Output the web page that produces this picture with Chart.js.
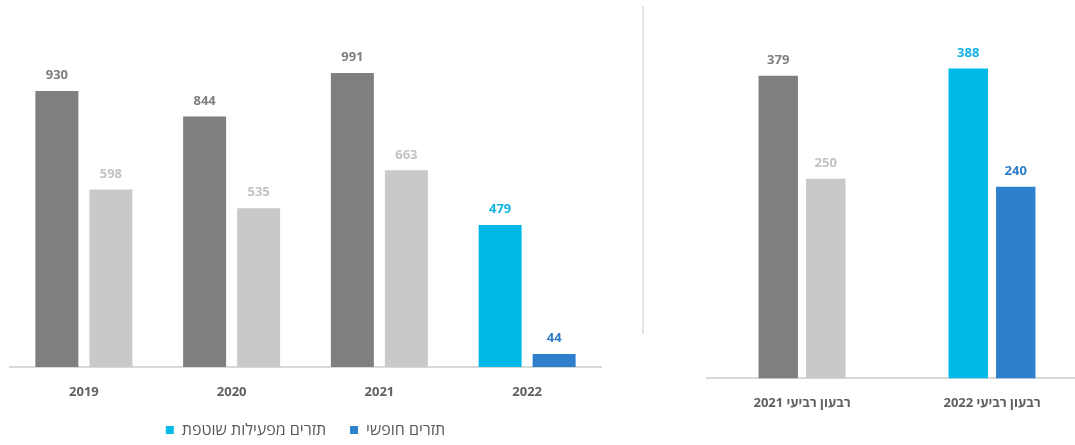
<!DOCTYPE html>
<html>
<head>
<meta charset="utf-8">
<script src="https://cdn.jsdelivr.net/npm/chart.js@4"></script>
<style>
  html, body { margin: 0; padding: 0; background: #fff; overflow: hidden; width: 1075px; height: 445px; }
  #wrapL { position: absolute; left: 0; top: 0; width: 615px; height: 445px; }
  #wrapR { position: absolute; left: 697px; top: 0; width: 390px; height: 445px; }
  #divider { position: absolute; left: 642px; top: 6px; width: 2px; height: 328px; background: #e4e4e4; }
</style>
</head>
<body>
<div id="wrapL"><canvas id="left"></canvas></div>
<div id="divider"></div>
<div id="wrapR"><canvas id="right"></canvas></div>
<script>
// ---- data ----
const yearLabels = ['2019', '2020', '2021', '2022'];
const operatingCF = [930, 844, 991, 479];   // תזרים מפעילות שוטפת
const freeCF = [598, 535, 663, 44];         // תזרים חופשי

const quarterLabels = ['רבעון רביעי 2021', 'רבעון רביעי 2022'];
const operatingQ = [379, 388];
const freeQ = [250, 240];

const seriesNames = ['תזרים מפעילות שוטפת', 'תזרים חופשי'];

// ---- styles ----
const FONT = '"Open Sans", "DejaVu Sans", sans-serif';
const LEGEND_FONT = '"Open Sans", "DejaVu Sans", sans-serif';
const DARK = '#7f7f7f', LIGHT = '#c9c9c9', CYAN = '#00b9e8', BLUE = '#2e80cc';
const DARK_T = '#7f7f7f', LIGHT_T = '#c2c2c2', CYAN_T = '#12b4e4', BLUE_T = '#2f7ec7';

function colorsFor(n, lastIdx, grey, highlight) {
  return Array.from({length: n}, (_, i) => (i >= lastIdx ? highlight : grey));
}

const valueLabels = {
  id: 'valueLabels',
  afterDatasetsDraw(chart) {
    const ctx = chart.ctx;
    ctx.save();
    ctx.font = 'bold 13px ' + FONT;
    ctx.textAlign = 'center';
    ctx.textBaseline = 'bottom';
    chart.data.datasets.forEach((ds, di) => {
      const meta = chart.getDatasetMeta(di);
      meta.data.forEach((bar, i) => {
        ctx.fillStyle = ds.labelColors[i];
        ctx.fillText(String(ds.data[i]), bar.x, bar.y - 9);
      });
    });
    ctx.restore();
  }
};

function makeOptions(ymax, pad, showLegend, catPct, barPct, xHeight) {
  const x = {
    grid: { display: false, drawTicks: false },
    border: { display: true, color: '#d9d9d9', width: 2 },
    ticks: { font: { family: FONT, size: 13, weight: 'bold' }, color: '#606060', padding: 17 }
  };
  if (xHeight) x.afterFit = (s) => { s.height = xHeight; };
  return {
    responsive: true,
    maintainAspectRatio: false,
    animation: false,
    layout: { padding: pad },
    datasets: { bar: { categoryPercentage: catPct, barPercentage: barPct } },
    plugins: {
      tooltip: { enabled: false },
      legend: {
        display: showLegend,
        position: 'bottom',
        labels: {
          font: { family: LEGEND_FONT, size: 16 },
          color: '#595959',
          boxWidth: 8,
          boxHeight: 8,
          padding: 24
        }
      }
    },
    scales: {
      x: x,
      y: { display: false, min: 0, max: ymax }
    }
  };
}

new Chart(document.getElementById('left'), {
  type: 'bar',
  data: {
    labels: yearLabels,
    datasets: [
      {
        label: seriesNames[0],
        data: operatingCF,
        backgroundColor: colorsFor(4, 3, DARK, CYAN),
        labelColors: colorsFor(4, 3, DARK_T, CYAN_T)
      },
      {
        label: seriesNames[1],
        data: freeCF,
        backgroundColor: colorsFor(4, 3, LIGHT, BLUE),
        labelColors: colorsFor(4, 3, LIGHT_T, BLUE_T)
      }
    ]
  },
  options: (() => {
    const o = makeOptions(1200, { left: 10, right: 14, top: 11, bottom: -3 }, true, 0.731, 0.796, 31);
    o.plugins.legend.labels.generateLabels = (chart) => chart.data.datasets.map((ds, i) => ({
      text: ds.label,
      fillStyle: i === 0 ? CYAN : BLUE,
      strokeStyle: i === 0 ? CYAN : BLUE,
      lineWidth: 0,
      fontColor: '#595959',
      datasetIndex: i
    }));
    return o;
  })(),
  plugins: [valueLabels]
});

new Chart(document.getElementById('right'), {
  type: 'bar',
  data: {
    labels: quarterLabels,
    datasets: [
      {
        label: seriesNames[0],
        data: operatingQ,
        backgroundColor: colorsFor(2, 1, DARK, CYAN),
        labelColors: colorsFor(2, 1, DARK_T, CYAN_T)
      },
      {
        label: seriesNames[1],
        data: freeQ,
        backgroundColor: colorsFor(2, 1, LIGHT, BLUE),
        labelColors: colorsFor(2, 1, LIGHT_T, BLUE_T)
      }
    ]
  },
  options: makeOptions(450, { left: 10, right: 0, top: 19, bottom: 17 }, false, 0.5, 0.83),
  plugins: [valueLabels]
});
</script>
</body>
</html>
